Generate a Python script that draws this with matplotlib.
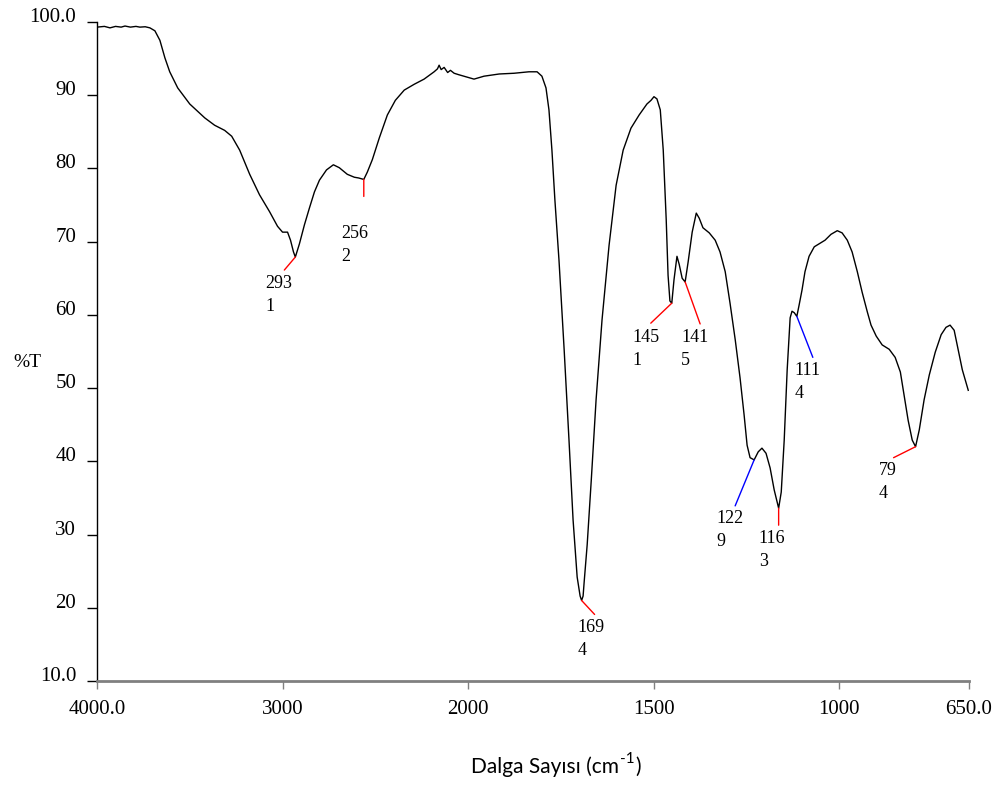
import numpy as np
import matplotlib.pyplot as plt
from matplotlib.font_manager import FontProperties

plt.rcParams['font.family'] = ['Liberation Serif', 'DejaVu Serif']
plt.rcParams['ytick.alignment'] = 'baseline'

# FTIR spectrum, wavenumber (cm-1) vs transmittance (%T)
wavenumber = [
    4000, 3960, 3930, 3900, 3870, 3849, 3820, 3790, 3769, 3740, 3715, 3688,
    3661, 3634, 3608, 3565, 3500, 3419, 3366, 3312, 3274, 3231, 3177, 3124,
    3070, 3027, 3000, 2973, 2957, 2941, 2931, 2909, 2882, 2855, 2828, 2801,
    2763, 2726, 2694, 2651, 2613, 2590, 2562, 2543, 2516, 2478, 2435, 2392,
    2344, 2290, 2237, 2183, 2165, 2156, 2145, 2129, 2110, 2095, 2075, 2050,
    2022, 1984, 1957, 1916, 1876, 1836, 1814, 1801, 1790, 1782, 1774, 1766,
    1755, 1741, 1728, 1717, 1706, 1698, 1694, 1690, 1687, 1679, 1668, 1655,
    1639, 1620, 1601, 1582, 1561, 1539, 1518, 1507, 1499, 1491, 1482, 1474,
    1466, 1461, 1456, 1451, 1445, 1437, 1431, 1423, 1415, 1407, 1396, 1385,
    1377, 1367, 1350, 1334, 1321, 1307, 1294, 1280, 1267, 1256, 1248, 1240,
    1229, 1218, 1208, 1197, 1186, 1175, 1163, 1156, 1148, 1140, 1132, 1127,
    1121, 1114, 1108, 1100, 1092, 1081, 1067, 1054, 1038, 1022, 1005, 992,
    978, 965, 951, 938, 924, 914, 900, 884, 865, 849, 835, 825, 814, 803,
    794, 784, 771, 757, 741, 725, 712, 701, 690, 679, 668, 652,
]
transmittance = [
    99.3, 99.4, 99.2, 99.4, 99.3, 99.45, 99.3, 99.4, 99.3, 99.35, 99.2, 98.8,
    97.5, 95.1, 93.2, 91.0, 88.8, 86.9, 85.9, 85.2, 84.4, 82.5, 79.2, 76.4,
    74.1, 72.1, 71.3, 71.3, 70.2, 68.6, 67.9, 69.7, 72.3, 74.6, 76.8, 78.4,
    79.8, 80.5, 80.1, 79.2, 78.8, 78.7, 78.5, 79.5, 81.2, 84.2, 87.3, 89.3,
    90.7, 91.5, 92.2, 93.2, 93.6, 94.1, 93.5, 93.8, 93.1, 93.4, 93.0, 92.8,
    92.6, 92.2, 92.6, 92.9, 93.0, 93.2, 93.2, 92.6, 91.0, 88.0, 82.5, 75.7,
    67.5, 55.2, 42.9, 32.0, 24.2, 21.6, 21.0, 21.6, 23.6, 28.6, 37.4, 48.4,
    59.3, 69.5, 77.7, 82.5, 85.5, 87.3, 88.8, 89.3, 89.8, 89.5, 88.0, 82.5,
    73.0, 65.4, 61.9, 61.6, 64.8, 68.0, 66.9, 65.0, 64.5, 67.2, 71.3, 73.9,
    73.2, 71.9, 71.2, 70.2, 68.6, 65.9, 61.6, 56.6, 51.4, 46.3, 42.2, 40.5,
    40.2, 41.3, 41.8, 41.1, 39.1, 36.1, 33.6, 35.8, 42.9, 52.5, 59.6, 60.5,
    60.3, 59.8, 61.3, 63.4, 65.9, 68.0, 69.3, 69.7, 70.2, 71.0, 71.5, 71.2,
    70.2, 68.6, 65.9, 63.1, 60.4, 58.6, 57.1, 55.9, 55.3, 54.2, 52.2, 49.1,
    45.6, 42.9, 42.0, 44.3, 48.4, 51.8, 54.9, 57.3, 58.3, 58.6, 57.9, 55.2,
    52.5, 49.7,
]

# labelled peaks (the instrument wraps the numbers onto two lines)
peak_wn = [2931, 2562, 1694, 1451, 1415, 1229, 1163, 1114, 794]
peak_labels = ['293\n1', '256\n2', '169\n4', '145\n1', '141\n5',
               '122\n9', '116\n3', '111\n4', '79\n4']
peak_colors = ['red', 'red', 'red', 'red', 'red', 'blue', 'red', 'blue', 'red']

x_ticks = [4000, 3000, 2000, 1500, 1000, 650]
x_tick_labels = ['4000.0', '3000', '2000', '1500', '1000', '650.0']
y_ticks = [10, 20, 30, 40, 50, 60, 70, 80, 90, 100]
y_tick_labels = ['10.0', '20', '30', '40', '50', '60', '70', '80', '90', '100.0']

# leader line end and text corner, pixel offsets from the peak (x right, y down)
leader_px = [(-11, 13), (0, 17), (13, 14), (-21, 20), (15, 42),
             (-19, 46), (0, 17), (16, 41), (-22, 11)]
text_px = [(-30, 18), (-23, 46), (-4, 19), (-39, 26), (-4, 47),
           (-38, 50), (-20, 22), (-2, 46), (-37, 15)]


def fwd(w):
    # scale doubles below 2000 cm-1
    w = np.asarray(w, dtype=float)
    return np.where(w >= 2000, w, 2 * w - 2000)


def inv(u):
    u = np.asarray(u, dtype=float)
    return np.where(u >= 2000, u, (u + 2000) / 2)


fig = plt.figure(figsize=(9.99, 7.87), dpi=100)
ax = fig.add_axes([97 / 999, 1 - 681 / 787, 872 / 999, 659 / 787])
ax.set_xscale('function', functions=(fwd, inv))

ax.plot(wavenumber, transmittance, color='black', lw=1.0)

ax.set_xlim(4000, 650)
ax.set_ylim(10, 100)
ax.set_xticks(x_ticks)
ax.set_xticklabels(x_tick_labels, fontfamily='Liberation Serif', fontsize=15)
ax.set_yticks(y_ticks)
ax.set_yticklabels(y_tick_labels, fontfamily='Liberation Serif', fontsize=15)
ax.minorticks_off()

ax.spines[['top', 'right']].set_visible(False)
ax.spines['left'].set_linewidth(1.0)
ax.spines['bottom'].set_color('#808080')
ax.spines['bottom'].set_linewidth(2.0)
ax.tick_params(axis='y', length=7, width=1, pad=8, colors='black')
ax.tick_params(axis='x', length=6, width=1, pad=8, color='#808080',
               labelcolor='black')

ax.set_ylabel('%T', rotation=0, fontsize=14, ha='center', va='center')
ax.yaxis.set_label_coords(-0.080, 0.484)

# axis title with a small hyphen superscript, built from three pieces
sans = FontProperties(family='Lato', size=15)
sup = FontProperties(family='Lato', size=11)
fig.canvas.draw()
renderer = fig.canvas.get_renderer()
t_main = fig.text(0, 0, 'Dalga Sayısı (cm', fontproperties=sans)
t_sup = fig.text(0, 0, '-1', fontproperties=sup)
t_end = fig.text(0, 0, ')', fontproperties=sans)
w_main = t_main.get_window_extent(renderer).width
w_sup = t_sup.get_window_extent(renderer).width
w_end = t_end.get_window_extent(renderer).width
total = w_main + w_sup + w_end + 1
x0 = 556 - total / 2
base_y = 787 - 773
t_main.set_position((x0 / 999, base_y / 787))
t_sup.set_position(((x0 + w_main + 0.5) / 999, (base_y + 10) / 787))
t_end.set_position(((x0 + w_main + w_sup + 1) / 999, base_y / 787))

px = 72 / fig.dpi
sorted_wn = wavenumber[::-1]
sorted_t = transmittance[::-1]
for wn, lab, col, (lx, ly), (tx, ty) in zip(peak_wn, peak_labels, peak_colors,
                                             leader_px, text_px):
    t = np.interp(wn, sorted_wn, sorted_t)
    ax.annotate('', xy=(wn, t), xytext=(lx * px, -ly * px),
                textcoords='offset points',
                arrowprops=dict(arrowstyle='-', color=col, lw=1.0,
                                shrinkA=0, shrinkB=0))
    ax.annotate(lab, xy=(wn, t), xytext=(tx * px, -ty * px),
                textcoords='offset points', ha='left', va='top',
                fontsize=13, linespacing=1.45)

fig.savefig('out.png', dpi=100)
